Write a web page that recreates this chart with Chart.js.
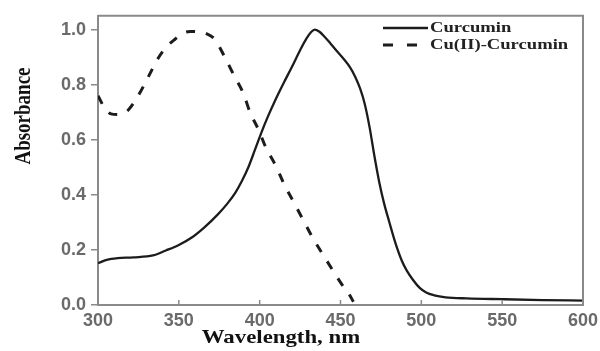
<!DOCTYPE html>
<html>
<head>
<meta charset="utf-8">
<script src="https://cdn.jsdelivr.net/npm/chart.js@4"></script>
<style>
    body { margin: 0; background: #fff; }
    #grafico { display: block; }
</style>
</head>
<body>
<canvas id="grafico" width="600" height="351"></canvas>
<script>
// Datos
const seriesLabels = ["Curcumin", "Cu(II)-Curcumin"];

const curcuminNm = [300, 306, 312, 322, 334, 342, 350, 358, 366, 374, 380, 385, 389, 393, 397, 401, 405, 410, 415, 420,
    425, 429, 432, 434, 437, 440, 444, 448, 452, 456, 459, 462, 465, 468, 471, 474, 477, 480, 484, 488, 491,
    495, 499, 503, 508, 515, 528, 550, 575, 600];
const curcuminAbs = [0.152, 0.165, 0.170, 0.173, 0.180, 0.198, 0.218, 0.245, 0.283, 0.328, 0.368, 0.408, 0.450, 0.500, 0.562, 0.625, 0.683, 0.748, 0.808, 0.865,
    0.925, 0.968, 0.992, 1.000, 0.992, 0.975, 0.948, 0.920, 0.893, 0.862, 0.830, 0.788, 0.730, 0.645, 0.540, 0.445, 0.368, 0.305, 0.225, 0.160, 0.125,
    0.090, 0.062, 0.045, 0.035, 0.028, 0.024, 0.021, 0.018, 0.016];

const cuCurcuminNm = [300, 304, 308, 312, 316, 319, 325, 331, 337, 342, 347, 352, 357, 362, 367, 372, 378, 384, 390, 394,
    399, 404, 410, 415, 421, 427, 433, 440, 447, 452, 455, 458];
const cuCurcuminAbs = [0.760, 0.716, 0.694, 0.692, 0.697, 0.710, 0.761, 0.827, 0.894, 0.935, 0.962, 0.985, 0.993, 0.992, 0.985, 0.966, 0.905, 0.835, 0.767, 0.700,
    0.640, 0.570, 0.505, 0.440, 0.374, 0.308, 0.242, 0.175, 0.109, 0.065, 0.042, 0.012];

const xTicks = [300, 350, 400, 450, 500, 550, 600];
const yTicks = [0.0, 0.2, 0.4, 0.6, 0.8, 1.0];

const xTitle = "Wavelength, nm";
const yTitle = "Absorbance";

const gris = "#8a8a8a";
const tinta = "#1c1c1c";

// Marco, marcas interiores, titulos y leyenda
const decoracion = {
    id: "decoracion",
    afterDraw(chart) {
        const ctx = chart.ctx;
        const area = chart.chartArea;
        const x = chart.scales.x;

        ctx.save();
        ctx.strokeStyle = gris;
        ctx.lineWidth = 2;
        ctx.beginPath();
        ctx.moveTo(area.left, area.top);
        ctx.lineTo(area.right, area.top);
        ctx.lineTo(area.right, area.bottom);
        ctx.stroke();

        // marcas del eje x hacia adentro
        ctx.lineWidth = 1.5;
        xTicks.forEach(v => {
            const px = x.getPixelForValue(v);
            ctx.beginPath();
            ctx.moveTo(px, area.bottom);
            ctx.lineTo(px, area.bottom - 5);
            ctx.stroke();
        });

        // titulos (la figura original esta estirada en horizontal)
        ctx.fillStyle = "#111";
        ctx.textAlign = "center";
        ctx.textBaseline = "middle";
        ctx.font = "bold 19px 'Liberation Serif'";
        ctx.save();
        ctx.translate(281, 338);
        ctx.scale(1.2, 1);
        ctx.fillText(xTitle, 0, 0);
        ctx.restore();

        ctx.save();
        ctx.translate(24, 116);
        ctx.scale(1.25, 1);
        ctx.rotate(-Math.PI / 2);
        ctx.fillText(yTitle, 0, 0);
        ctx.restore();

        // leyenda
        ctx.font = "bold 15.5px 'Liberation Serif'";
        ctx.textAlign = "left";
        chart.data.datasets.forEach((ds, i) => {
            const y = 28 + i * 17;
            ctx.strokeStyle = tinta;
            ctx.lineWidth = ds.borderWidth;
            ctx.beginPath();
            if (ds.borderDash) {
                ctx.moveTo(383, y); ctx.lineTo(393, y);
                ctx.moveTo(407, y); ctx.lineTo(417, y);
            } else {
                ctx.moveTo(383, y); ctx.lineTo(428, y);
            }
            ctx.stroke();
            ctx.save();
            ctx.translate(430, y);
            ctx.scale(1.2, 1);
            ctx.fillStyle = "#222";
            ctx.fillText(ds.label, 0, 0);
            ctx.restore();
        });
        ctx.restore();
    }
};

const canvas = document.getElementById("grafico");

new Chart(canvas, {
    type: "line",
    data: {
        datasets: [
            {
                label: seriesLabels[0],
                data: curcuminNm.map((nm, i) => ({ x: nm, y: curcuminAbs[i] })),
                borderColor: tinta,
                borderWidth: 2.3,
                pointRadius: 0,
                cubicInterpolationMode: "monotone"
            },
            {
                label: seriesLabels[1],
                data: cuCurcuminNm.map((nm, i) => ({ x: nm, y: cuCurcuminAbs[i] })),
                borderColor: tinta,
                borderWidth: 3,
                borderDash: [9, 11],
                pointRadius: 0,
                cubicInterpolationMode: "monotone"
            }
        ]
    },
    options: {
        responsive: false,
        animation: false,
        layout: { padding: { left: 0, top: 15, right: 17, bottom: 0 } },
        plugins: {
            legend: { display: false },
            tooltip: { enabled: false }
        },
        scales: {
            x: {
                type: "linear",
                min: 300,
                max: 600,
                afterFit: scale => {
                    scale.height = 46;
                    scale.paddingLeft = 0;
                    scale.paddingRight = 0;
                },
                afterBuildTicks: scale => { scale.ticks = xTicks.map(v => ({ value: v })); },
                grid: { display: true, drawOnChartArea: false, drawTicks: false },
                border: { display: true, color: gris, width: 2 },
                ticks: {
                    padding: 5,
                    color: "#6a6a6a",
                    font: { family: "'Liberation Sans'", size: 18, weight: "bold" },
                    callback: v => String(v)
                }
            },
            y: {
                type: "linear",
                min: 0,
                max: 1.05,
                afterFit: scale => { scale.width = 98; },
                afterBuildTicks: scale => { scale.ticks = yTicks.map(v => ({ value: v })); },
                grid: { display: true, drawOnChartArea: false, drawTicks: true, tickLength: 7, color: gris, lineWidth: 1.5 },
                border: { display: true, color: gris, width: 2 },
                ticks: {
                    padding: 5,
                    color: "#6a6a6a",
                    font: { family: "'Liberation Sans'", size: 18, weight: "bold" },
                    callback: v => Number(v).toFixed(1)
                }
            }
        }
    },
    plugins: [decoracion]
});
</script>
</body>
</html>
